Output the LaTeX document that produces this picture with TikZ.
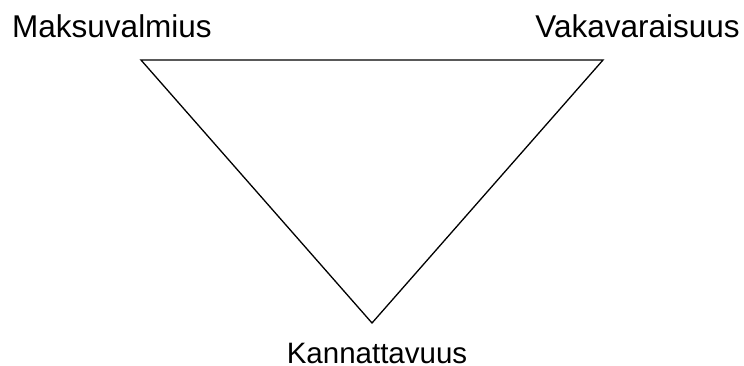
\documentclass[tikz,border=0pt]{standalone}
\usepackage{fontspec}
\setmainfont{Liberation Sans}
\begin{document}
\begin{tikzpicture}[x=1pt,y=-1pt,
  lbl/.style={inner sep=0pt,font=\fontsize{31.5}{36}\selectfont},
  lblb/.style={inner sep=0pt,font=\fontsize{29.5}{34}\selectfont},
  edge/.style={line width=1.3pt,line join=miter}]
\useasboundingbox (0,0) rectangle (744,365);
\coordinate (tl) at (141,60);
\coordinate (tr) at (603,60);
\coordinate (bt) at (372,323);
\draw[edge] (tl) -- (tr) -- (bt) -- cycle;
\node[lbl,anchor=base] (m) at (112,37) {Maksuvalmius};
\node[lbl,anchor=base] (v) at (637.5,37) {Vakavaraisuus};
\node[lblb,anchor=base] (k) at (377,363) {Kannattavuus};
\end{tikzpicture}
\end{document}
